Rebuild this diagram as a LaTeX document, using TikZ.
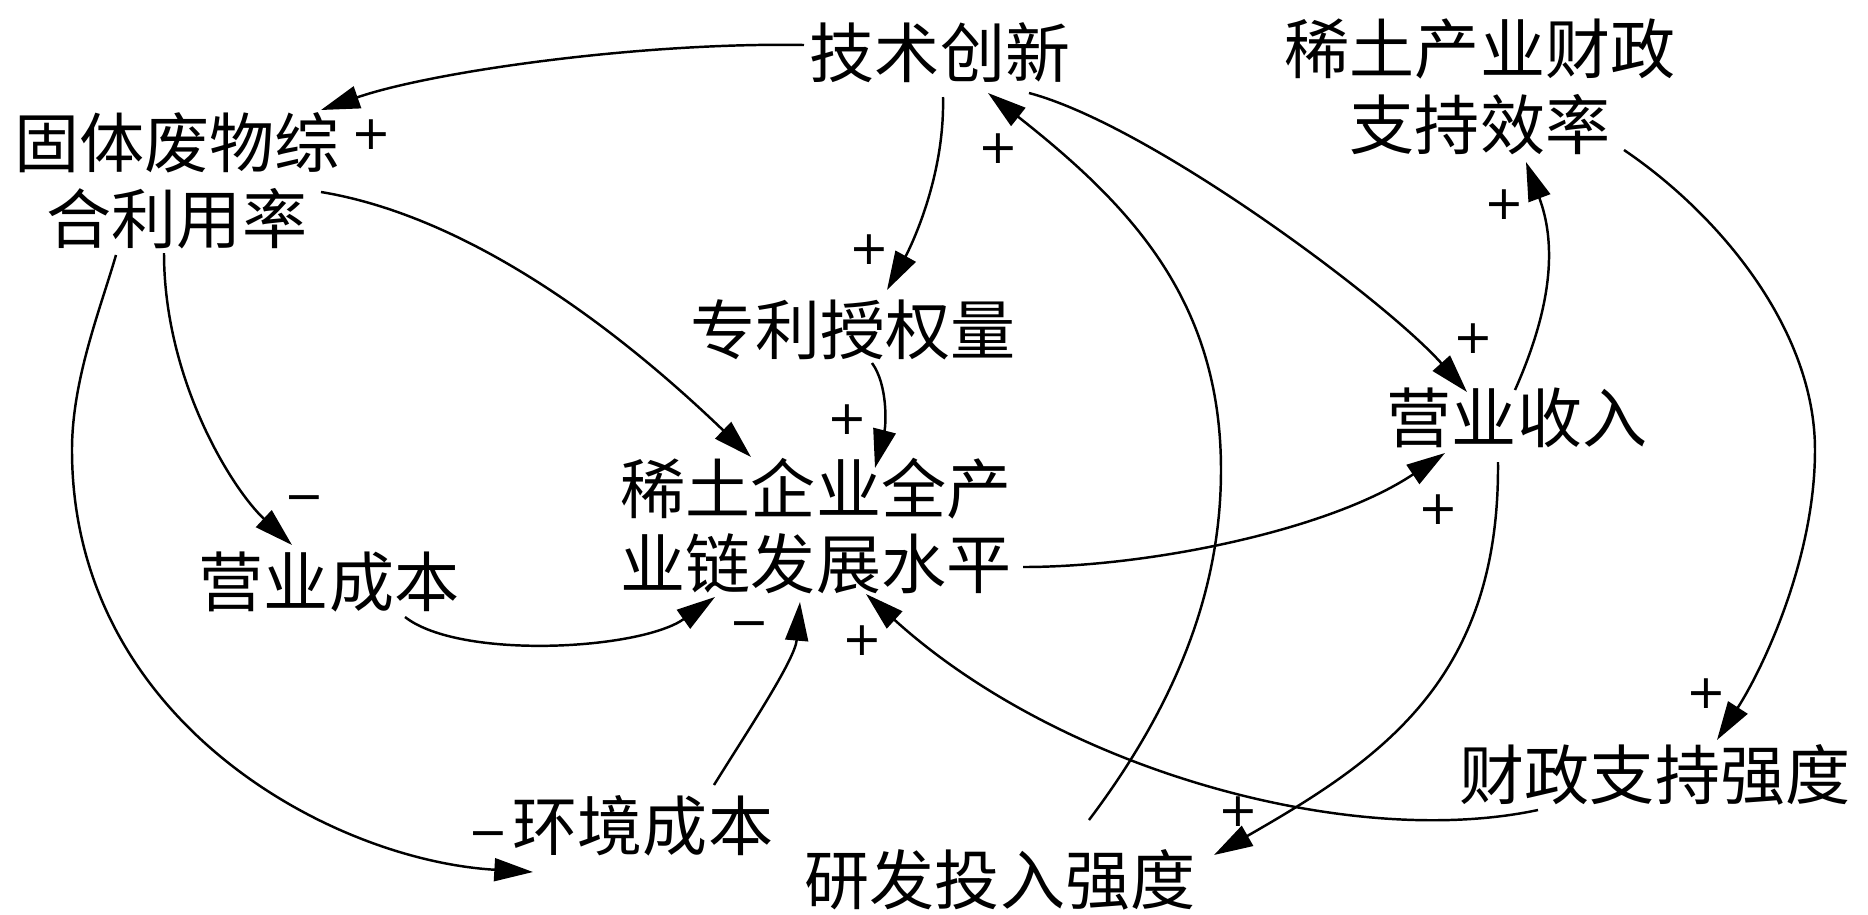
\documentclass[tikz,border=0pt]{standalone}
\usepackage{fontspec}
\newfontfamily\cjk{Noto Sans CJK SC}
\newfontfamily\dv{DejaVu Sans}
\usetikzlibrary{arrows.meta,calc}
\begin{document}
\begin{tikzpicture}[x=0.01cm,y=-0.01cm,
  lbl/.style={font=\cjk\fontsize{18.5}{21.6}\selectfont, inner sep=0pt, align=center},
  sgn/.style={font=\dv\fontsize{13.5}{13.5}\selectfont, inner sep=0pt},
  arr/.style={line width=0.7pt, -{Triangle[length=11pt,width=6.5pt]}}]
\fill[white] (0,0) rectangle (1868,914);
\useasboundingbox (0,0) rectangle (1868,914);
% nodes
\node[lbl] (tech)    at (940,53)   {技术创新};
\node[lbl] (eff)     at (1480,87)  {稀土产业财政\\支持效率};
\node[lbl] (solid)   at (177,181)  {固体废物综\\合利用率};
\node[lbl] (patent)  at (853,330)  {专利授权量};
\node[lbl] (level)   at (816,526)  {稀土企业全产\\业链发展水平};
\node[lbl] (rev)     at (1517,418) {营业收入};
\node[lbl] (opcost)  at (329,582)  {营业成本};
\node[lbl] (envcost) at (643,826)  {环境成本};
\node[lbl] (rd)      at (1000,880) {研发投入强度};
\node[lbl] (fin)     at (1655,775) {财政支持强度};
% polarity signs
\node[sgn] (s1)  at (371,135)  {+};
\node[sgn] (s2)  at (998,149)  {+};
\node[sgn] (s3)  at (869,250)  {+};
\node[sgn] (s4)  at (1504,205) {+};
\node[sgn] (s5)  at (1473,339) {+};
\node[sgn] (s6)  at (847,420)  {+};
\node[sgn] (s7)  at (1438,510) {+};
\node[sgn] (s8)  at (862,641)  {+};
\node[sgn] (s9)  at (1706,694) {+};
\node[sgn] (s10) at (1238,812) {+};
\node[sgn] (m1)  at (304,504)  {−};
\node[sgn] (m2)  at (749,630)  {−};
\node[sgn] (m3)  at (488,840)  {−};
% connectors
\draw[arr] ($(tech)+(-136,-8)$) .. controls (640,42) and (430,72) .. ($(solid)+(144,-71)$);
\draw[arr] ($(tech)+(3,44)$) .. controls (945,180) and (908,252) .. ($(patent)+(34,-40)$);
\draw[arr] ($(rd)+(89,-60)$) .. controls (1184,694) and (1221,580) .. (1221,470)
           .. controls (1221,300) and (1130,205) .. ($(tech)+(48,40)$);
\draw[arr] ($(tech)+(89,40)$) .. controls (1150,125) and (1385,300) .. ($(rev)+(-50,-26)$);
\draw[arr] ($(rev)+(-2,-28)$) .. controls (1555,300) and (1555,240) .. ($(eff)+(46,75)$);
\draw[arr] ($(eff)+(144,63)$) .. controls (1720,215) and (1815,330) .. (1815,450)
           .. controls (1815,560) and (1762,670) .. ($(fin)+(62,-35)$);
\draw[arr] ($(rev)+(-19,44)$) .. controls (1500,680) and (1380,760) .. ($(rd)+(214,-25)$);
\draw[arr] ($(fin)+(-117,35)$) .. controls (1350,850) and (1060,770) .. ($(level)+(50,68)$);
\draw[arr] ($(level)+(207,41)$) .. controls (1150,567) and (1330,530) .. ($(rev)+(-72,35)$);
\draw[arr] ($(solid)+(144,11)$) .. controls (490,220) and (650,360) .. ($(level)+(-65,-69)$);
\draw[arr] ($(patent)+(19,33)$) .. controls (888,385) and (886,425) .. ($(level)+(59,-58)$);
\draw[arr] ($(solid)+(-13,72)$) .. controls (164,380) and (232,489) .. ($(opcost)+(-37,-37)$);
\draw[arr] ($(solid)+(-61,74)$) .. controls (100,310) and (72,380) .. (72,450)
           .. controls (72,720) and (330,860) .. ($(envcost)+(-110,46)$);
\draw[arr] ($(opcost)+(76,35)$) .. controls (460,660) and (640,650) .. ($(level)+(-101,71)$);
\draw[arr] ($(envcost)+(71,-41)$) .. controls (745,735) and (795,660) .. ($(level)+(-16,76)$);
\end{tikzpicture}
\end{document}
